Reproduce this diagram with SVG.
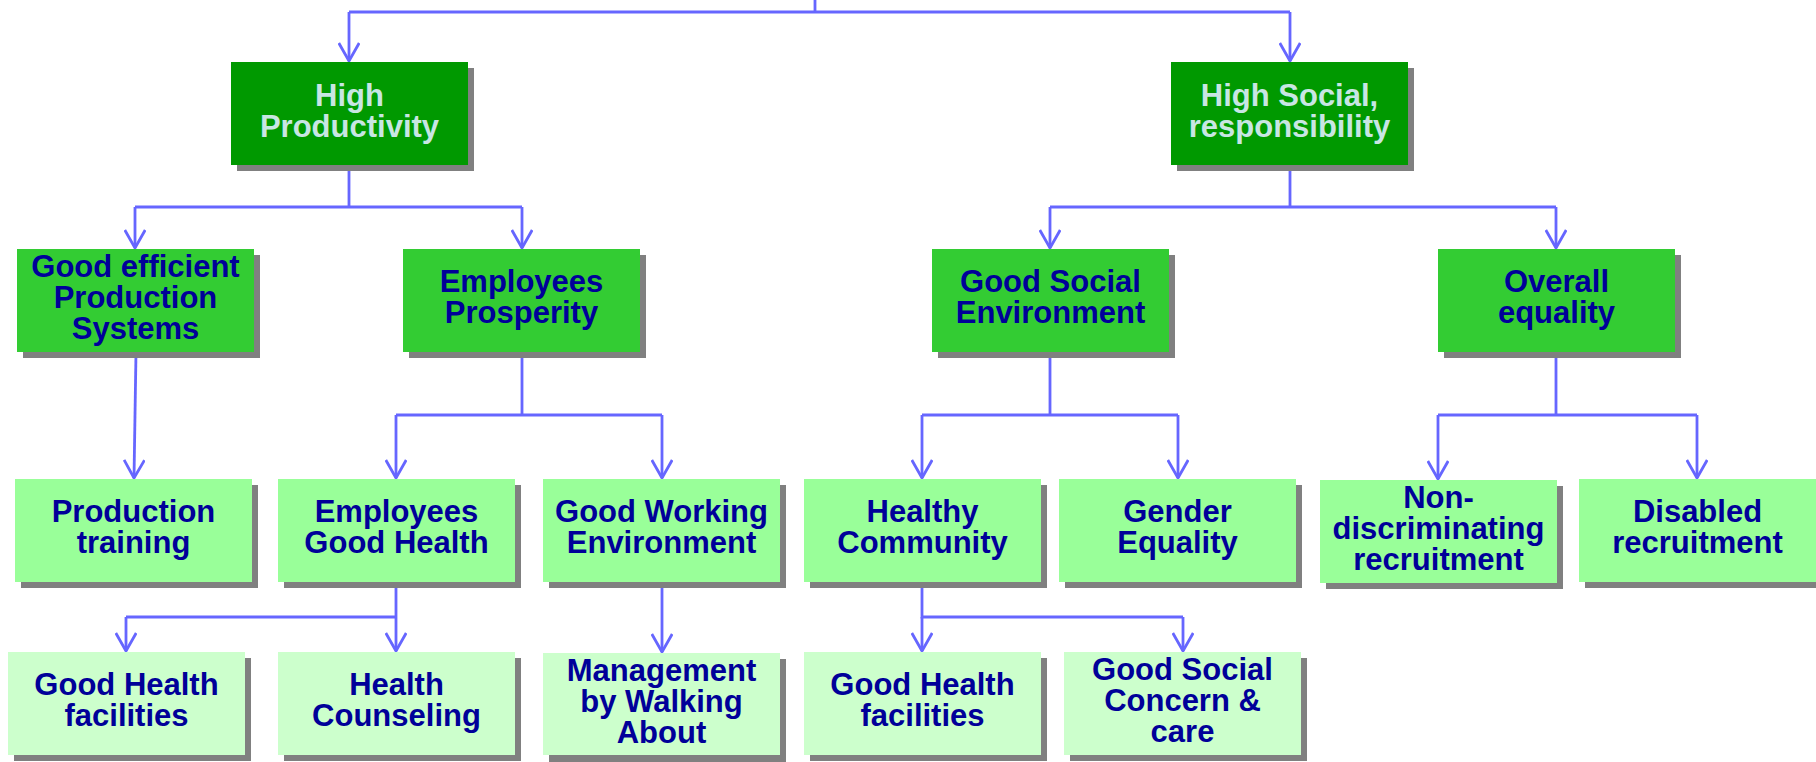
<svg xmlns="http://www.w3.org/2000/svg" width="1816" height="762" viewBox="0 0 1816 762">
<defs>
<marker id="arr" viewBox="0 0 20 22" refX="19" refY="11" markerWidth="20" markerHeight="22" markerUnits="userSpaceOnUse" orient="auto">
<path d="M1,0.8 L19,11 L1,21.2" fill="none" stroke="#6666FF" stroke-width="2.8"/>
</marker>
<style>
.sh{fill:#808080}
.l1{fill:#009900}
.l2{fill:#33CC33}
.l3{fill:#99FF99}
.l4{fill:#CCFFCC}
text{font-family:"Liberation Sans",Arial,sans-serif;font-weight:bold;font-size:31px;text-anchor:middle}
.t1{fill:#C8E6E3}
.t2{fill:#000099}
.c{fill:none;stroke:#6666FF;stroke-width:2.8}
.a{fill:none;stroke:#6666FF;stroke-width:2.8;marker-end:url(#arr)}
</style>
</defs>
<rect width="1816" height="762" fill="#FFFFFF"/>
<g id="connectors">
<path class="c" d="M815,0 V12 M349,12 H1290"/>
<path class="a" d="M349,12 V61"/>
<path class="a" d="M1290,12 V61"/>
<path class="c" d="M349,165 V207 M135,207 H522"/>
<path class="a" d="M135,207 V248"/>
<path class="a" d="M522,207 V248"/>
<path class="c" d="M1290,165 V207 M1050,207 H1556"/>
<path class="a" d="M1050,207 V248"/>
<path class="a" d="M1556,207 V248"/>
<path class="a" d="M136,352 L134,478"/>
<path class="c" d="M522,352 V415 M396,415 H662"/>
<path class="a" d="M396,415 V478"/>
<path class="a" d="M662,415 V478"/>
<path class="c" d="M1050,352 V415 M922,415 H1178"/>
<path class="a" d="M922,415 V478"/>
<path class="a" d="M1178,415 V478"/>
<path class="c" d="M1556,352 V415 M1438,415 H1697"/>
<path class="a" d="M1438,415 V479"/>
<path class="a" d="M1697,415 V478"/>
<path class="c" d="M396,582 V617 M126,617 H396"/>
<path class="a" d="M126,617 V651"/>
<path class="a" d="M396,617 V651"/>
<path class="a" d="M662,582 V652"/>
<path class="c" d="M922,582 V617 H1183"/>
<path class="a" d="M922,617 V651"/>
<path class="a" d="M1183,617 V651"/>
</g>
<g id="high-productivity">
<rect class="sh" x="237" y="68" width="237" height="103"/>
<rect class="l1" x="231" y="62" width="237" height="103"/>
<text class="t1" x="349.5" y="106">High</text>
<text class="t1" x="349.5" y="137">Productivity</text>
</g>
<g id="high-social-responsibility">
<rect class="sh" x="1177" y="68" width="237" height="103"/>
<rect class="l1" x="1171" y="62" width="237" height="103"/>
<text class="t1" x="1289.5" y="106">High Social,</text>
<text class="t1" x="1289.5" y="137">responsibility</text>
</g>
<g id="good-efficient">
<rect class="sh" x="23" y="255" width="237" height="103"/>
<rect class="l2" x="17" y="249" width="237" height="103"/>
<text class="t2" x="135.5" y="277">Good efficient</text>
<text class="t2" x="135.5" y="308">Production</text>
<text class="t2" x="135.5" y="339">Systems</text>
</g>
<g id="employees-prosperity">
<rect class="sh" x="409" y="255" width="237" height="103"/>
<rect class="l2" x="403" y="249" width="237" height="103"/>
<text class="t2" x="521.5" y="292">Employees</text>
<text class="t2" x="521.5" y="323">Prosperity</text>
</g>
<g id="good-social-environment">
<rect class="sh" x="938" y="255" width="237" height="103"/>
<rect class="l2" x="932" y="249" width="237" height="103"/>
<text class="t2" x="1050.5" y="292">Good Social</text>
<text class="t2" x="1050.5" y="323">Environment</text>
</g>
<g id="overall-equality">
<rect class="sh" x="1444" y="255" width="237" height="103"/>
<rect class="l2" x="1438" y="249" width="237" height="103"/>
<text class="t2" x="1556.5" y="292">Overall</text>
<text class="t2" x="1556.5" y="323">equality</text>
</g>
<g id="production-training">
<rect class="sh" x="21" y="485" width="237" height="103"/>
<rect class="l3" x="15" y="479" width="237" height="103"/>
<text class="t2" x="133.5" y="522">Production</text>
<text class="t2" x="133.5" y="553">training</text>
</g>
<g id="employees-good-health">
<rect class="sh" x="284" y="485" width="237" height="103"/>
<rect class="l3" x="278" y="479" width="237" height="103"/>
<text class="t2" x="396.5" y="522">Employees</text>
<text class="t2" x="396.5" y="553">Good Health</text>
</g>
<g id="good-working-environment">
<rect class="sh" x="549" y="485" width="237" height="103"/>
<rect class="l3" x="543" y="479" width="237" height="103"/>
<text class="t2" x="661.5" y="522">Good Working</text>
<text class="t2" x="661.5" y="553">Environment</text>
</g>
<g id="healthy-community">
<rect class="sh" x="810" y="485" width="237" height="103"/>
<rect class="l3" x="804" y="479" width="237" height="103"/>
<text class="t2" x="922.5" y="522">Healthy</text>
<text class="t2" x="922.5" y="553">Community</text>
</g>
<g id="gender-equality">
<rect class="sh" x="1065" y="485" width="237" height="103"/>
<rect class="l3" x="1059" y="479" width="237" height="103"/>
<text class="t2" x="1177.5" y="522">Gender</text>
<text class="t2" x="1177.5" y="553">Equality</text>
</g>
<g id="non-discriminating-recruitment">
<rect class="sh" x="1326" y="486" width="237" height="103"/>
<rect class="l3" x="1320" y="480" width="237" height="103"/>
<text class="t2" x="1438.5" y="508">Non-</text>
<text class="t2" x="1438.5" y="539">discriminating</text>
<text class="t2" x="1438.5" y="570">recruitment</text>
</g>
<g id="disabled-recruitment">
<rect class="sh" x="1585" y="485" width="237" height="103"/>
<rect class="l3" x="1579" y="479" width="237" height="103"/>
<text class="t2" x="1697.5" y="522">Disabled</text>
<text class="t2" x="1697.5" y="553">recruitment</text>
</g>
<g id="good-health-facilities-1">
<rect class="sh" x="14" y="658" width="237" height="103"/>
<rect class="l4" x="8" y="652" width="237" height="103"/>
<text class="t2" x="126.5" y="695">Good Health</text>
<text class="t2" x="126.5" y="726">facilities</text>
</g>
<g id="health-counseling">
<rect class="sh" x="284" y="658" width="237" height="103"/>
<rect class="l4" x="278" y="652" width="237" height="103"/>
<text class="t2" x="396.5" y="695">Health</text>
<text class="t2" x="396.5" y="726">Counseling</text>
</g>
<g id="management-by-walking-about">
<rect class="sh" x="549" y="659" width="237" height="103"/>
<rect class="l4" x="543" y="653" width="237" height="102"/>
<text class="t2" x="661.5" y="681">Management</text>
<text class="t2" x="661.5" y="712">by Walking</text>
<text class="t2" x="661.5" y="743">About</text>
</g>
<g id="good-health-facilities-2">
<rect class="sh" x="810" y="658" width="237" height="103"/>
<rect class="l4" x="804" y="652" width="237" height="103"/>
<text class="t2" x="922.5" y="695">Good Health</text>
<text class="t2" x="922.5" y="726">facilities</text>
</g>
<g id="good-social-concern-care">
<rect class="sh" x="1070" y="658" width="237" height="103"/>
<rect class="l4" x="1064" y="652" width="237" height="103"/>
<text class="t2" x="1182.5" y="680">Good Social</text>
<text class="t2" x="1182.5" y="711">Concern &amp;</text>
<text class="t2" x="1182.5" y="742">care</text>
</g>
</svg>
